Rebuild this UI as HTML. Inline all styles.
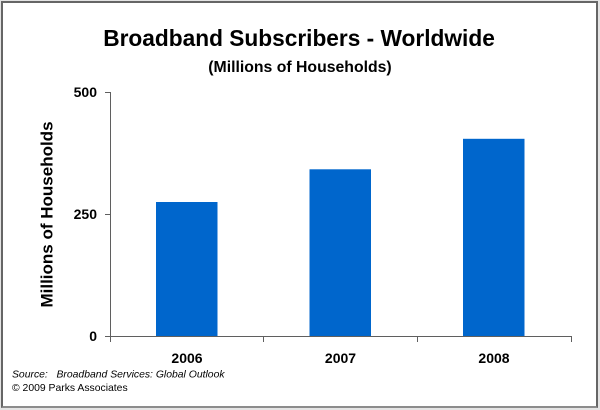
<!DOCTYPE html>
<html>
<head>
<meta charset="utf-8">
<style>
  html, body { margin:0; padding:0; }
  body { width:600px; height:410px; background:#e4e4e4; position:relative; overflow:hidden; }
  .frame { position:absolute; left:1px; top:1px; width:593px; height:403px; background:#fff;
           border:2px solid #666; border-bottom-color:#8c8c8c; }
  svg { position:absolute; left:0; top:0; }
  text { font-family:"Liberation Sans", Arial, sans-serif; fill:#000; }
</style>
</head>
<body>
<div class="frame"></div>
<svg width="600" height="410" viewBox="0 0 600 410">
  <!-- Titles -->
  <text x="299" y="46" text-anchor="middle" font-size="22.7" font-weight="bold">Broadband Subscribers - Worldwide</text>
  <text x="300" y="72" text-anchor="middle" font-size="15.8" font-weight="bold">(Millions of Households)</text>

  <!-- Y axis title -->
  <text transform="translate(52.5,214.5) rotate(-90)" text-anchor="middle" font-size="17" font-weight="bold">Millions of Households</text>

  <!-- Bars -->
  <rect x="156" y="202" width="61.5" height="134" fill="#0066cc"/>
  <rect x="309.5" y="169.3" width="61.5" height="166.7" fill="#0066cc"/>
  <rect x="463" y="138.8" width="61.5" height="197.2" fill="#0066cc"/>

  <!-- Axes -->
  <g stroke="#5f5f5f" stroke-width="1" shape-rendering="crispEdges" fill="none">
    <line x1="110.5" y1="92" x2="110.5" y2="342"/>
    <line x1="105" y1="336.5" x2="571.5" y2="336.5"/>
    <line x1="105" y1="92.5" x2="110" y2="92.5"/>
    <line x1="105" y1="214.5" x2="110" y2="214.5"/>
    <line x1="263.5" y1="336" x2="263.5" y2="342"/>
    <line x1="417.5" y1="336" x2="417.5" y2="342"/>
    <line x1="571.5" y1="336" x2="571.5" y2="342"/>
  </g>

  <!-- Y tick labels -->
  <text x="97" y="97" text-anchor="end" font-size="14" font-weight="bold">500</text>
  <text x="97" y="219" text-anchor="end" font-size="14" font-weight="bold">250</text>
  <text x="97" y="341" text-anchor="end" font-size="14" font-weight="bold">0</text>

  <!-- X tick labels -->
  <text x="187" y="363" text-anchor="middle" font-size="14" font-weight="bold">2006</text>
  <text x="340.5" y="363" text-anchor="middle" font-size="14" font-weight="bold">2007</text>
  <text x="494" y="363" text-anchor="middle" font-size="14" font-weight="bold">2008</text>

  <!-- Source -->
  <text x="12" y="377.5" font-size="10.4" font-style="italic" xml:space="preserve">Source:   Broadband Services: Global Outlook</text>
  <text x="12" y="391" font-size="10.4">© 2009 Parks Associates</text>
</svg>
</body>
</html>
